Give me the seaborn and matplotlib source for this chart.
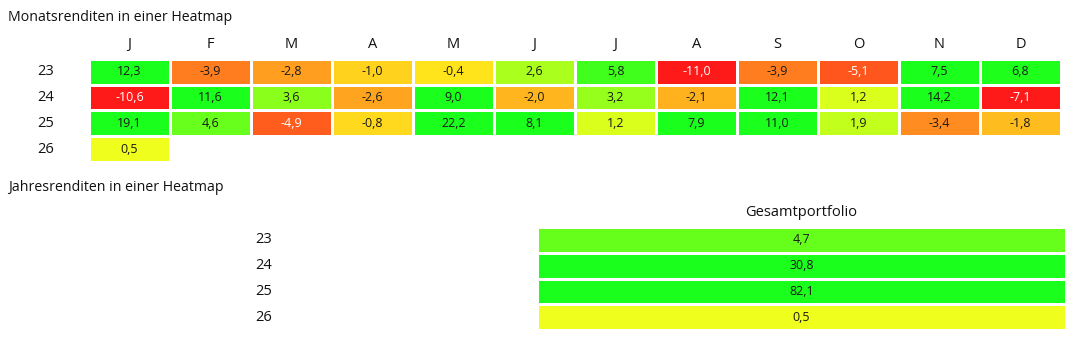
import numpy as np
import pandas as pd
import matplotlib
matplotlib.use("Agg")
import matplotlib.pyplot as plt
import seaborn as sns
from matplotlib.colors import LinearSegmentedColormap

sns.set_theme(style="white")
plt.rcParams['font.family'] = ['Open Sans', 'DejaVu Sans']

# ---- data ----
months = ["J", "F", "M", "A", "M", "J", "J", "A", "S", "O", "N", "D"]
years = ["23", "24", "25", "26"]
r2023 = [12.3, -3.9, -2.8, -1.0, -0.4, 2.6, 5.8, -11.0, -3.9, -5.1, 7.5, 6.8]
r2024 = [-10.6, 11.6, 3.6, -2.6, 9.0, -2.0, 3.2, -2.1, 12.1, 1.2, 14.2, -7.1]
r2025 = [19.1, 4.6, -4.9, -0.8, 22.2, 8.1, 1.2, 7.9, 11.0, 1.9, -3.4, -1.8]
r2026 = [0.5] + [np.nan] * 11
annual_label = "Gesamtportfolio"
annual = [4.7, 30.8, 82.1, 0.5]

monthly = pd.DataFrame([r2023, r2024, r2025, r2026], index=years, columns=months)
yearly = pd.DataFrame({annual_label: annual}, index=years)

cmap = LinearSegmentedColormap.from_list(
    "rg", [(0.0, "#ff1a1a"), (0.25, "#ff8a20"), (0.5, "#fff01c"),
           (0.54, "#eeff1c"), (1.0, "#1aff1c")])
VMIN, VMAX = -7, 7

def fmt(v):
    return "" if np.isnan(v) else f"{v:.1f}".replace(".", ",")

W, H = 1073, 337
fig = plt.figure(figsize=(W / 100, H / 100), dpi=100)

def px_axes(x0, y0, x1, y1):
    return fig.add_axes([x0 / W, 1 - y1 / H, (x1 - x0) / W, (y1 - y0) / H])

def style_texts(ax, values):
    flat = [v for v in np.asarray(values).ravel() if not np.isnan(v)]
    for t, v in zip(ax.texts, flat):
        t.set_color("white" if v < -4.5 else "#1a1a1a")

# ---- monthly heatmap ----
ax1 = px_axes(89, 59, 1061, 162)
annot1 = np.vectorize(fmt)(monthly.values)
sns.heatmap(monthly, ax=ax1, cmap=cmap, vmin=VMIN, vmax=VMAX, cbar=False,
            annot=annot1, fmt="", linewidths=0.75, linecolor="white",
            annot_kws={"fontsize": 9})
style_texts(ax1, monthly.values)
ax1.xaxis.tick_top()
ax1.tick_params(axis="x", length=0, pad=5, labelsize=10.5, labelcolor="#111111")
ax1.tick_params(axis="y", length=0, pad=25, labelsize=10.5, labelcolor="#111111")
ax1.set_yticklabels(years, rotation=0, ha="right")
ax1.set_xticklabels(months, rotation=0)
ax1.set_xlabel("")
ax1.set_ylabel("")

# ---- annual heatmap ----
ax2 = px_axes(537, 227, 1066, 330)
annot2 = np.vectorize(fmt)(yearly.values)
sns.heatmap(yearly, ax=ax2, cmap=cmap, vmin=VMIN, vmax=VMAX, cbar=False,
            annot=annot2, fmt="", linewidths=0.75, linecolor="white",
            annot_kws={"fontsize": 9})
style_texts(ax2, yearly.values)
ax2.xaxis.tick_top()
ax2.tick_params(axis="x", length=0, pad=5, labelsize=10.5, labelcolor="#111111")
ax2.tick_params(axis="y", length=0, pad=191, labelsize=10.5, labelcolor="#111111")
ax2.set_yticklabels(years, rotation=0, ha="right")
ax2.set_xticklabels([annual_label], rotation=0)
ax2.set_xlabel("")
ax2.set_ylabel("")

# ---- titles ----
fig.text(8 / W, 1 - 21 / H, "Monatsrenditen in einer Heatmap", fontsize=10.2,
         color="#111111", ha="left", va="baseline")
fig.text(8 / W, 1 - 191 / H, "Jahresrenditen in einer Heatmap", fontsize=10.2,
         color="#111111", ha="left", va="baseline")

fig.savefig("out.png", dpi=100, facecolor="white")
